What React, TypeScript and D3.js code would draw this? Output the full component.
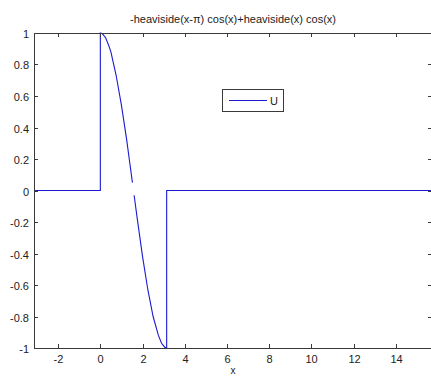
import React, { useEffect, useRef } from 'react';
import * as d3 from 'd3';

const title = '-heaviside(x-\u03c0) cos(x)+heaviside(x) cos(x)';
const xLabel = 'x';
const legendLabel = 'U';

const xDomain = [-Math.PI, 5 * Math.PI];
const yDomain = [-1, 1];
const xTicks = [-2, 0, 2, 4, 6, 8, 10, 12, 14];
const yTicks = [-1, -0.8, -0.6, -0.4, -0.2, 0, 0.2, 0.4, 0.6, 0.8, 1];

// first piece: flat zero, jump at x=0, falling part of the curve (up to the small break near pi/2)
const seg1X = [-3.1416, 0, 0, 0, 0.1, 0.25, 0.4, 0.5, 0.75, 1, 1.25, 1.4, 1.52];
const seg1Y = [0, 0, 0.5, 1, 0.995, 0.97, 0.92, 0.88, 0.73, 0.54, 0.32, 0.17, 0.05];
// second piece: rest of the curve down to -1, jump back up at x=pi, flat zero after
const seg2X = [1.6, 1.75, 2, 2.25, 2.5, 2.75, 2.9, 3.05, 3.1416, 3.1416, 15.708];
const seg2Y = [-0.03, -0.18, -0.42, -0.63, -0.8, -0.92, -0.97, -0.995, -1, 0, 0];

const width = 431;
const height = 376;
const margin = { top: 33, right: -1, bottom: 28, left: 34 };
const lineColor = '#1a1ad0';
const axisColor = '#3a3a3a';
const textColor = '#222';
const font = '"Liberation Sans", Arial, sans-serif';

function fmt(v: number) {
  return String(Math.round(v * 10) / 10);
}

export default function App() {
  const ref = useRef<SVGSVGElement>(null);

  useEffect(() => {
    if (!ref.current) return;
    const svg = d3.select(ref.current);
    svg.selectAll('*').remove();

    const x0 = margin.left, x1 = width - margin.right;
    const y0 = height - margin.bottom, y1 = margin.top;
    const x = d3.scaleLinear().domain(xDomain).range([x0, x1]);
    const y = d3.scaleLinear().domain(yDomain).range([y0, y1]);

    svg.append('rect').attr('width', width).attr('height', height).attr('fill', '#fff');

    const drawSeg = (xs: number[], ys: number[]) => {
      const pts = xs.map((v, i) => [x(v), y(ys[i])] as [number, number]);
      svg.append('path')
        .attr('d', d3.line()(pts))
        .attr('fill', 'none')
        .attr('stroke', lineColor)
        .attr('stroke-width', 1.1);
    };
    drawSeg(seg1X, seg1Y);
    drawSeg(seg2X, seg2Y);

    // axes box
    svg.append('rect')
      .attr('x', x0 + 0.5).attr('y', y1 + 0.5)
      .attr('width', x1 - x0).attr('height', y0 - y1)
      .attr('fill', 'none').attr('stroke', axisColor).attr('stroke-width', 1);

    const tl = 4;
    xTicks.forEach(t => {
      const px = Math.round(x(t)) + 0.5;
      svg.append('line').attr('x1', px).attr('x2', px).attr('y1', y0).attr('y2', y0 - tl).attr('stroke', axisColor);
      svg.append('line').attr('x1', px).attr('x2', px).attr('y1', y1).attr('y2', y1 + tl).attr('stroke', axisColor);
      svg.append('text')
        .attr('x', px).attr('y', y0 + 15)
        .attr('text-anchor', 'middle')
        .attr('font-family', font).attr('font-size', 11).attr('fill', textColor)
        .text(fmt(t));
    });
    yTicks.forEach(t => {
      const py = Math.round(y(t)) + 0.5;
      svg.append('line').attr('x1', x0).attr('x2', x0 + tl).attr('y1', py).attr('y2', py).attr('stroke', axisColor);
      svg.append('line').attr('x1', x1).attr('x2', x1 - tl).attr('y1', py).attr('y2', py).attr('stroke', axisColor);
      svg.append('text')
        .attr('x', x0 - 5).attr('y', py + 4)
        .attr('text-anchor', 'end')
        .attr('font-family', font).attr('font-size', 11).attr('fill', textColor)
        .text(fmt(t));
    });

    svg.append('text')
      .attr('x', (x0 + x1) / 2).attr('y', 23)
      .attr('text-anchor', 'middle')
      .attr('font-family', font).attr('font-size', 11).attr('fill', textColor)
      .text(title);

    svg.append('text')
      .attr('x', (x0 + x1) / 2).attr('y', 374)
      .attr('text-anchor', 'middle')
      .attr('font-family', font).attr('font-size', 10).attr('fill', textColor)
      .text(xLabel);

    // legend
    const lg = svg.append('g').attr('transform', 'translate(222,89)');
    lg.append('rect').attr('x', 0.5).attr('y', 0.5).attr('width', 61).attr('height', 22)
      .attr('fill', '#fff').attr('stroke', axisColor);
    lg.append('line').attr('x1', 7).attr('x2', 45).attr('y1', 11.5).attr('y2', 11.5)
      .attr('stroke', lineColor).attr('stroke-width', 1.1);
    lg.append('text').attr('x', 48).attr('y', 15.5)
      .attr('font-family', font).attr('font-size', 11).attr('fill', textColor)
      .text(legendLabel);
  }, []);

  return (
    <svg ref={ref} width={width} height={height}
      style={{ position: 'absolute', left: 0, top: 0, display: 'block' }} />
  );
}
